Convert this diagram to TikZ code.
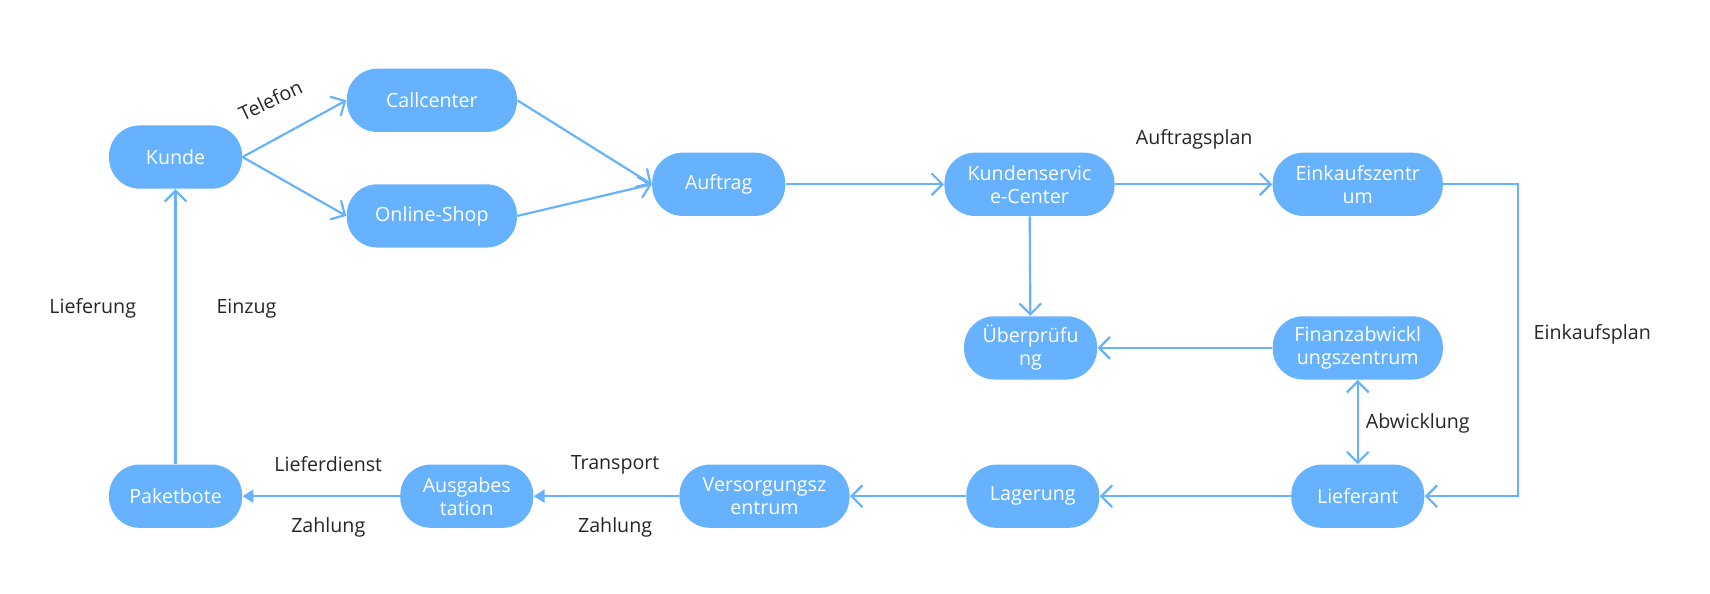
\documentclass[tikz,border=0pt]{standalone}
\usepackage{fontspec}
\setmainfont{Open Sans}
\usetikzlibrary{arrows.meta}
\definecolor{bl}{HTML}{66B2FF}
\tikzset{
 box/.style={rounded corners=14pt,fill=bl,text=white,minimum height=29pt,align=center,font=\fontsize{9}{10.5}\selectfont,inner sep=1pt},
 bw/.style={box,minimum width=61pt},
 bW/.style={box,minimum width=78pt},
 ln/.style={draw=bl,line width=1pt,-{Straight Barb[length=5pt,width=10pt]}},
 lf/.style={draw=bl,line width=1pt,-{Triangle[length=5pt,width=6pt]}},
 lab/.style={font=\fontsize{9}{10.5}\selectfont,text=black!85}
}
\begin{document}
\begin{tikzpicture}[x=0.5pt,y=-0.5pt]
\useasboundingbox (0,0) rectangle (1568,544);
\node[bw] (ku) at (161,144) {Kunde};
\node[bW] (cc) at (396,92) {Callcenter};
\node[bW] (os) at (396,198) {Online-Shop};
\node[bw] (au) at (659,169) {Auftrag};
\node[bW] (ks) at (944,169) {Kundenservic\\e-Center};
\node[bW] (ez) at (1245,169) {Einkaufszentr\\um};
\node[bw] (ue) at (945,319) {Überprüfu\\ng};
\node[bW] (fz) at (1245,319) {Finanzabwickl\\ungszentrum};
\node[bw] (li) at (1245,455) {Lieferant};
\node[bw] (la) at (947,455) {Lagerung};
\node[bW] (vz) at (701,455) {Versorgungsz\\entrum};
\node[bw] (ag) at (428,455) {Ausgabes\\tation};
\node[bw] (pb) at (161,455) {Paketbote};
\draw[ln] (ku.east) -- (cc.west);
\draw[ln] (ku.east) -- (os.west);
\node[lab,rotate=25] (tel) at (248,92) {Telefon};
\draw[ln] (cc.east) -- (au.west);
\draw[ln] (os.east) -- (au.west);
\draw[ln] (au) -- (ks);
\draw[ln] (ks) -- (ez);
\node[lab] (ap) at (1095,128) {Auftragsplan};
\draw[ln] (ks) -- (ue);
\draw[ln] (fz) -- (ue);
\coordinate (c1) at (1392,169);
\coordinate (c2) at (1392,455);
\draw[ln] (ez.east) -- (c1) -- (c2) -- (li.east);
\node[lab] (ep) at (1460,307) {Einkaufsplan};
\draw[ln,{Straight Barb[length=5pt,width=10pt]}-{Straight Barb[length=5pt,width=10pt]}] (fz) -- (li);
\node[lab] (ab) at (1300,388) {Abwicklung};
\draw[ln] (li) -- (la);
\draw[ln] (la) -- (vz);
\draw[lf] (vz) -- (ag);
\node[lab] (tr) at (564,426) {Transport};
\node[lab] (z1) at (564,484) {Zahlung};
\draw[lf] (ag) -- (pb);
\node[lab] (ld) at (301,426) {Lieferdienst};
\node[lab] (z2) at (301,484) {Zahlung};
\draw[ln] (pb) -- (ku);
\node[lab] (lf) at (85,283) {Lieferung};
\node[lab] (ez2) at (226,283) {Einzug};
\end{tikzpicture}
\end{document}
